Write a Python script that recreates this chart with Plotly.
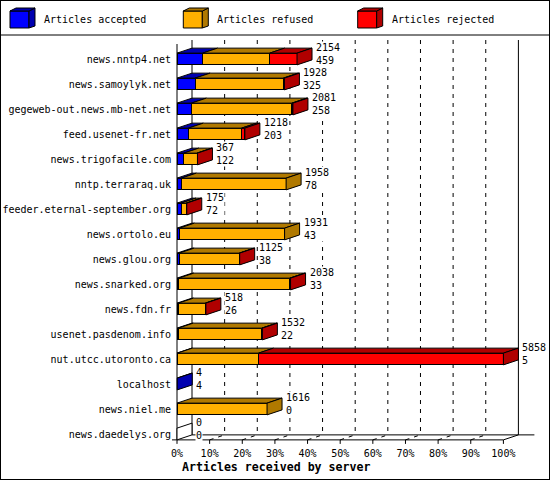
import plotly.graph_objects as go

# === Data ===
servers = [
    "news.nntp4.net", "news.samoylyk.net", "gegeweb-out.news.mb-net.net",
    "feed.usenet-fr.net", "news.trigofacile.com", "nntp.terraraq.uk",
    "feeder.eternal-september.org", "news.ortolo.eu", "news.glou.org",
    "news.snarked.org", "news.fdn.fr", "usenet.pasdenom.info",
    "nut.utcc.utoronto.ca", "localhost", "news.niel.me", "news.daedelys.org",
]
totals = [2154, 1928, 2081, 1218, 367, 1958, 175, 1931, 1125, 2038, 518, 1532, 5858, 4, 1616, 0]
accepted = [459, 325, 258, 203, 122, 78, 72, 43, 38, 33, 26, 22, 5, 4, 0, 0]
refused = [1204, 1583, 1803, 955, 237, 1880, 91, 1888, 1079, 1990, 482, 1502, 1458, 0, 1616, 0]
rejected = [491, 20, 20, 60, 8, 0, 12, 0, 8, 15, 10, 8, 4395, 0, 0, 0]
pct_ticks = [0, 10, 20, 30, 40, 50, 60, 70, 80, 90, 100]
pct_labels = ["0%", "10%", "20%", "30%", "40%", "50%", "60%", "70%", "80%", "90%", "100%"]
legend_names = ["Articles accepted", "Articles refused", "Articles rejected"]

# === Style / geometry ===
W, H = 550, 480
FONT = "DejaVu Sans Mono"
front_colors = ["#0000ff", "#ffb000", "#ff0000"]
side_colors = ["#0000b0", "#b07900", "#b00000"]

PX = 3.264          # pixels per percent
ROW = 25            # pixels per server row
X0, Y0 = 177, 59    # pixel of 0% and of first row centre
DX = 15 / PX        # 3d depth in axis units
DY = 5 / ROW
HALF = 0.235
FLOOR = len(servers) - 1 + HALF
TOP_FRONT = (44 - Y0) / ROW
TOP_BACK = (40 - Y0) / ROW

scale = 100 / max(totals)
rows = list(range(len(servers)))
series = [accepted, refused, rejected]


def px(x, y):
    return x / W, 1 - y / H


fig = go.Figure()

# === Front faces (stacked bars) ===
for name, vals, col in zip(legend_names, series, front_colors):
    fig.add_trace(go.Bar(
        y=rows, x=[v * scale for v in vals], orientation="h", width=2 * HALF,
        name=name, marker=dict(color=col, line=dict(color="black", width=1)),
        showlegend=False, hoverinfo="skip",
    ))

# === Top and side faces ===
tops = [([], []) for _ in series]
sides = [([], []) for _ in range(len(series) + 1)]
for i in rows:
    yt, yb = i - HALF, i + HALF
    start, last = 0, len(series)
    for k, vals in enumerate(series):
        if vals[i] == 0:
            continue
        v = vals[i] * scale
        xs, ys = tops[k]
        xs += [start, start + v, start + v + DX, start + DX, start, None]
        ys += [yt, yt, yt - DY, yt - DY, yt, None]
        start += v
        last = k
    xs, ys = sides[last]
    xs += [start, start + DX, start + DX, start, start, None]
    ys += [yt, yt - DY, yb - DY, yb, yt, None]

for (xs, ys), col in zip(tops + sides, side_colors + side_colors + ["white"]):
    if not xs:
        continue
    fig.add_trace(go.Scatter(
        x=xs, y=ys, mode="lines", fill="toself", fillcolor=col,
        line=dict(color="black", width=1), showlegend=False, hoverinfo="skip",
    ))

# === Value labels ===
for i in rows:
    fig.add_annotation(
        x=totals[i] * scale + DX, y=i - 0.21, xshift=3,
        text=f"{totals[i]}<br>{accepted[i]}", showarrow=False,
        xanchor="left", yanchor="middle", align="left",
        bgcolor="white", borderpad=0,
        font=dict(family=FONT, size=10, color="black"),
    )

# === Frame: walls, floor, grid ===
shapes = []
line = dict(color="black", width=1)
dash = dict(color="black", width=1, dash="4px,5px")
shapes.append(dict(type="line", x0=0, x1=0, y0=TOP_FRONT, y1=FLOOR, line=line))
shapes.append(dict(type="line", x0=-5 / PX, x1=100, y0=FLOOR, y1=FLOOR, line=line))
shapes.append(dict(type="line", x0=100, x1=100 + DX, y0=FLOOR, y1=FLOOR - DY, line=line))
shapes.append(dict(type="line", x0=DX, x1=DX, y0=TOP_BACK, y1=FLOOR - DY, line=line))
shapes.append(dict(type="line", x0=100 + DX, x1=100 + DX, y0=TOP_BACK, y1=FLOOR - DY, line=line))
shapes.append(dict(type="line", x0=DX, x1=100 + DX + 16 / PX, y0=FLOOR - DY, y1=FLOOR - DY, line=line))
for t in pct_ticks:
    shapes.append(dict(type="line", x0=t, x1=t, y0=FLOOR, y1=FLOOR + 4 / ROW, line=line))
for t in pct_ticks[1:-1]:
    shapes.append(dict(type="line", x0=t + DX, x1=t + DX, y0=TOP_BACK, y1=FLOOR - DY, line=dash))
    shapes.append(dict(type="line", x0=t, x1=t + DX, y0=FLOOR, y1=FLOOR - DY, line=dash))
for s in shapes:
    s.update(xref="x", yref="y", layer="below")

# === Legend (drawn cubes) ===
for k, (name, fc, sc) in enumerate(zip(legend_names, front_colors, side_colors)):
    o = [0, 173.3, 347.7][k]
    def path(pts):
        return "M" + "L".join("%f,%f" % px(o + a, b) for a, b in pts) + "Z"
    for pts, col in [
        ([(10, 11), (29, 11), (29, 28), (10, 28)], fc),
        ([(29, 11), (35, 8), (35, 26), (29, 28)], sc),
        ([(10, 11), (16, 8), (35, 8), (29, 11)], sc),
    ]:
        shapes.append(dict(type="path", xref="paper", yref="paper", path=path(pts),
                           fillcolor=col, line=line, layer="above"))
    fig.add_annotation(
        xref="paper", yref="paper", x=(o + 42) / W, y=1 - 20 / H, text=name,
        showarrow=False, xanchor="left", yanchor="middle",
        font=dict(family=FONT, size=10, color="black"),
    )

# separator and border
shapes.append(dict(type="line", xref="paper", yref="paper", x0=0, x1=1,
                   y0=1 - 35 / H, y1=1 - 35 / H, line=line))
shapes.append(dict(type="rect", xref="paper", yref="paper", x0=0, x1=1, y0=0, y1=1,
                   line=dict(color="black", width=2)))

fig.add_annotation(
    xref="paper", yref="paper", x=180 / W, y=1 - 467 / H,
    text="Articles received by server", showarrow=False,
    xanchor="left", yanchor="middle",
    font=dict(family=FONT, size=11.6, color="black", weight="bold"),
)

# === Layout ===
fig.update_layout(
    width=W, height=H, barmode="stack",
    margin=dict(l=0, r=0, t=0, b=0),
    paper_bgcolor="white", plot_bgcolor="white",
    showlegend=False, shapes=shapes,
    xaxis=dict(
        domain=[(X0 - 5) / W, 1], range=[-5 / PX, (W - X0) / PX],
        tickvals=pct_ticks, ticktext=pct_labels, ticks="", ticklabelstandoff=2,
        showgrid=False, zeroline=False, showline=False,
        tickfont=dict(family=FONT, size=10, color="black"),
    ),
    yaxis=dict(
        domain=[1 - 444 / H, 1 - 36 / H], range=[(444 - Y0) / ROW, (36 - Y0) / ROW],
        tickvals=rows, ticktext=servers, ticks="",
        showgrid=False, zeroline=False, showline=False,
        tickfont=dict(family=FONT, size=10, color="black"),
    ),
)

fig.write_html("out.html", config={"displayModeBar": False},
               post_script="document.body.style.margin = '0';")
